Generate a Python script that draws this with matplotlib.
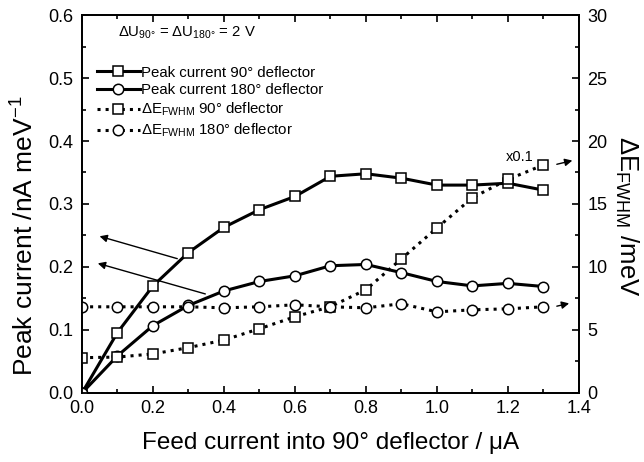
import matplotlib
matplotlib.use('Agg')
import matplotlib.pyplot as plt
from matplotlib.lines import Line2D
from matplotlib.ticker import MultipleLocator

plt.rcParams['font.family'] = ['Liberation Sans', 'DejaVu Sans']
plt.rcParams['mathtext.fontset'] = 'custom'
plt.rcParams['mathtext.rm'] = 'Liberation Sans'
plt.rcParams['mathtext.it'] = 'Liberation Sans'

feed = [0.0, 0.1, 0.2, 0.3, 0.4, 0.5, 0.6, 0.7, 0.8, 0.9, 1.0, 1.1, 1.2, 1.3]

# peak current, nA/meV
peak90 = [0.0, 0.096, 0.170, 0.223, 0.263, 0.291, 0.312, 0.344, 0.348, 0.341,
          0.330, 0.330, 0.333, 0.322]
peak180 = [0.0, 0.059, 0.107, 0.139, 0.162, 0.177, 0.186, 0.202, 0.204, 0.191,
           0.177, 0.170, 0.174, 0.169]

# energy width, meV (90 deg values already scaled x0.1 above 0.8 uA)
fwhm90 = [2.8, 2.85, 3.1, 3.6, 4.2, 5.1, 6.05, 6.85, 8.2, 10.65, 13.1, 15.5,
          16.95, 18.1]
fwhm180 = [6.84, 6.84, 6.84, 6.84, 6.76, 6.84, 7.0, 6.84, 6.76, 7.08, 6.44,
           6.6, 6.68, 6.84]

fig = plt.figure(figsize=(6.44, 4.62), dpi=100)
ax = fig.add_axes([0.1273, 0.1494, 0.7717, 0.8181])
ax2 = ax.twinx()

mk = dict(markersize=7.5, markerfacecolor='white', markeredgecolor='black',
          markeredgewidth=1.1, color='black')
ax.plot(feed, peak90, '-s', lw=2.2, zorder=3, **mk)
ax.plot(feed, peak180, '-o', lw=2.2, zorder=3, **mk)
ax2.plot(feed, fwhm90, ':s', lw=2.2, **mk)
ax2.plot(feed, fwhm180, ':o', lw=2.2, **mk)

ax.set_xlim(0, 1.4)
ax.set_ylim(0, 0.6)
ax2.set_ylim(0, 30)

ax.xaxis.set_major_locator(MultipleLocator(0.2))
ax.xaxis.set_minor_locator(MultipleLocator(0.1))
ax.yaxis.set_major_locator(MultipleLocator(0.1))
ax.yaxis.set_minor_locator(MultipleLocator(0.05))
ax2.yaxis.set_major_locator(MultipleLocator(5))
ax2.yaxis.set_minor_locator(MultipleLocator(2.5))
ax.xaxis.set_major_formatter(lambda v, p: f'{v:.1f}')
ax.yaxis.set_major_formatter(lambda v, p: f'{v:.1f}')

ax.tick_params(which='both', direction='in', top=True, right=False,
               labelsize=13, width=1.2)
ax.tick_params(axis='x', pad=5)
ax.tick_params(axis='y', pad=6)
ax.tick_params(which='major', length=5)
ax.tick_params(which='minor', length=3)
ax2.tick_params(which='both', direction='in', labelsize=13, width=1.2, pad=6)
ax2.tick_params(which='major', length=5)
ax2.tick_params(which='minor', length=3)
for a in (ax, ax2):
    for s in a.spines.values():
        s.set_linewidth(1.3)

ax.set_xlabel('Feed current into 90° deflector / μA', fontsize=17.5,
              labelpad=11)
fig.text(25 / 644, 1 - 236 / 462, 'Peak current /nA meV$^{-1}$', fontsize=19,
         rotation=90, ha='center', va='center')
fig.text(627 / 644, 1 - 216 / 462, 'ΔE$_{\\mathrm{FWHM}}$ /meV', fontsize=18.5,
         rotation=270, ha='center', va='center')

ax.text(0.101, 0.572, 'ΔU$_{90°}$ = ΔU$_{180°}$ = 2 V', fontsize=10.7,
        va='center')

handles = [
    Line2D([], [], linestyle='-', marker='s', lw=2.2, **mk),
    Line2D([], [], linestyle='-', marker='o', lw=2.2, **mk),
    Line2D([], [], linestyle=':', marker='s', lw=2.2, **mk),
    Line2D([], [], linestyle=':', marker='o', lw=2.2, **mk),
]
labels = ['Peak current 90° deflector', 'Peak current 180° deflector',
          'ΔE$_{\\mathrm{FWHM}}$ 90° deflector',
          'ΔE$_{\\mathrm{FWHM}}$ 180° deflector']
ax2.legend(handles, labels, loc='upper left', bbox_to_anchor=(0.03, 0.866),
           frameon=False, fontsize=10.8, handlelength=2.85, handletextpad=0.1,
           labelspacing=0.24, borderpad=0, borderaxespad=0)

# arrows pointing to the axis each curve belongs to
ap = dict(arrowstyle='-|>', lw=1.0, color='black', mutation_scale=11)
ax.annotate('', xy=(0.042, 0.250), xytext=(0.276, 0.212), arrowprops=ap)
ax.annotate('', xy=(0.037, 0.207), xytext=(0.355, 0.156), arrowprops=ap)
ax2.annotate('', xy=(1.389, 18.5), xytext=(1.33, 18.1), arrowprops=ap)
ax2.annotate('', xy=(1.380, 7.16), xytext=(1.33, 6.84), arrowprops=ap)
ax2.text(1.234, 18.7, 'x0.1', fontsize=10.5, ha='center', va='center')

fig.savefig('out.png', dpi=100)
